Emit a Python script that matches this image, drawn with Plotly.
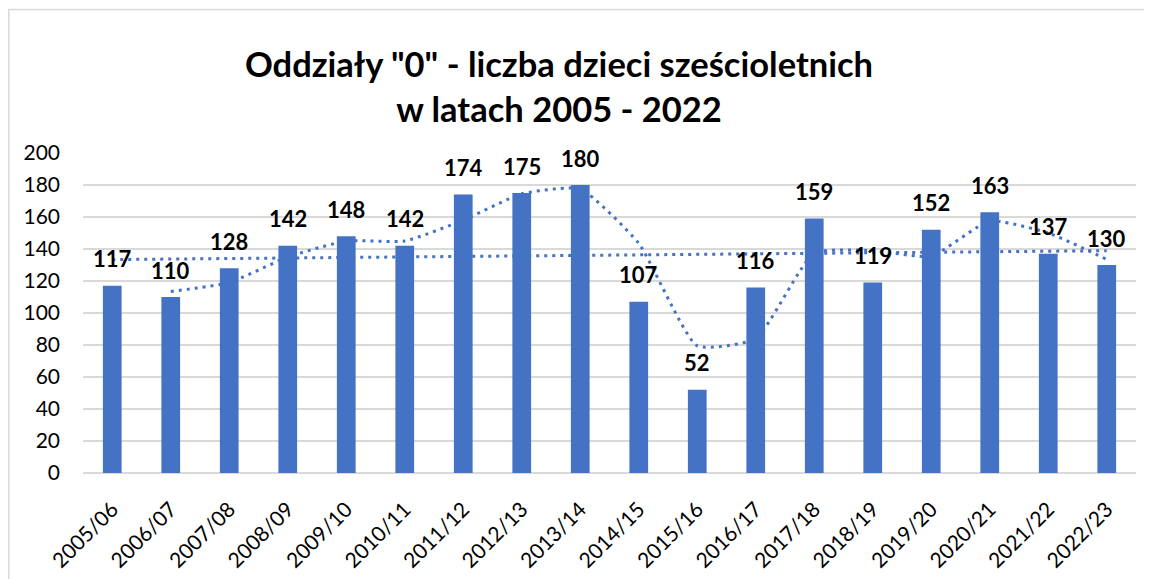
import numpy as np
import plotly.graph_objects as go

categories = ["2005/06", "2006/07", "2007/08", "2008/09", "2009/10", "2010/11",
              "2011/12", "2012/13", "2013/14", "2014/15", "2015/16", "2016/17",
              "2017/18", "2018/19", "2019/20", "2020/21", "2021/22", "2022/23"]
values = [117, 110, 128, 142, 148, 142, 174, 175, 180, 107, 52, 116, 159, 119, 152, 163, 137, 130]
y_ticks = [0, 20, 40, 60, 80, 100, 120, 140, 160, 180, 200]
title_text = 'Oddziały "0" - liczba dzieci sześcioletnich<br>w latach 2005 - 2022'

BLUE = "#4472C4"
GRID = "#D9D9D9"
FONT = "Lato"

# page has an 8px body margin; figure sized to fill the rest of the window
W, H = 1144, 571
ml, mr, mt, mb = 75, 16, 145, 106
pw, ph = W - ml - mr, H - mt - mb

# Trendlines (as Excel): linear and 2-period moving average
idx = np.arange(len(values))
slope, intercept = np.polyfit(idx, values, 1)
trend_y = slope * idx + intercept
ma_x = categories[1:]
ma_y = [(values[i - 1] + values[i]) / 2 for i in range(1, len(values))]

fig = go.Figure()
fig.add_trace(go.Bar(x=categories, y=values, marker=dict(color=BLUE, line=dict(width=0)),
                     hoverinfo="x+y"))
fig.add_trace(go.Scatter(x=ma_x, y=ma_y, mode="lines",
                         line=dict(color=BLUE, width=3, dash="3px,5px", shape="spline", smoothing=0.5)))
fig.add_trace(go.Scatter(x=categories, y=trend_y, mode="lines",
                         line=dict(color=BLUE, width=3, dash="3px,5px")))

for c, v in zip(categories, values):
    fig.add_annotation(x=c, y=v, text=str(v), showarrow=False, yshift=27,
                       yanchor="middle", xanchor="center",
                       font=dict(family=FONT, size=22, color="black", weight="bold"))

# chart border (Excel chart area)
def px_x(p):
    return (p - ml) / pw
def px_y(p):
    return 1 - (p - mt) / ph

fig.add_shape(type="rect", xref="paper", yref="paper",
              x0=px_x(0.75), x1=px_x(W + 10), y0=px_y(H + 10), y1=px_y(1.5),
              line=dict(color="#D9D9D9", width=1.5), fillcolor="rgba(0,0,0,0)", layer="below")

fig.update_layout(
    width=W, height=H,
    margin=dict(l=ml, r=mr, t=mt, b=mb, autoexpand=False),
    paper_bgcolor="white", plot_bgcolor="white",
    showlegend=False,
    bargap=0.68,
    title=dict(text=title_text, xref="container", yref="container",
               x=551 / W, xanchor="center", y=1 - 69 / H, yanchor="middle",
               font=dict(family=FONT, size=34.5, color="black", weight="bold")),
    font=dict(family=FONT, color="black"),
)
fig.update_xaxes(type="category", tickangle=-45, tickfont=dict(size=21, family=FONT, color="black"),
                 showgrid=False, showline=False, ticks="", ticklabelstandoff=19, automargin=False)
fig.update_yaxes(range=[0, 200], tickvals=y_ticks, showgrid=True, gridcolor=GRID, gridwidth=1.5,
                 zeroline=True, zerolinecolor=GRID, zerolinewidth=1.5, showline=False, automargin=False,
                 tickfont=dict(size=21, family=FONT, color="black"), ticks="", ticklabelstandoff=22)

fig.write_html("out.html")
